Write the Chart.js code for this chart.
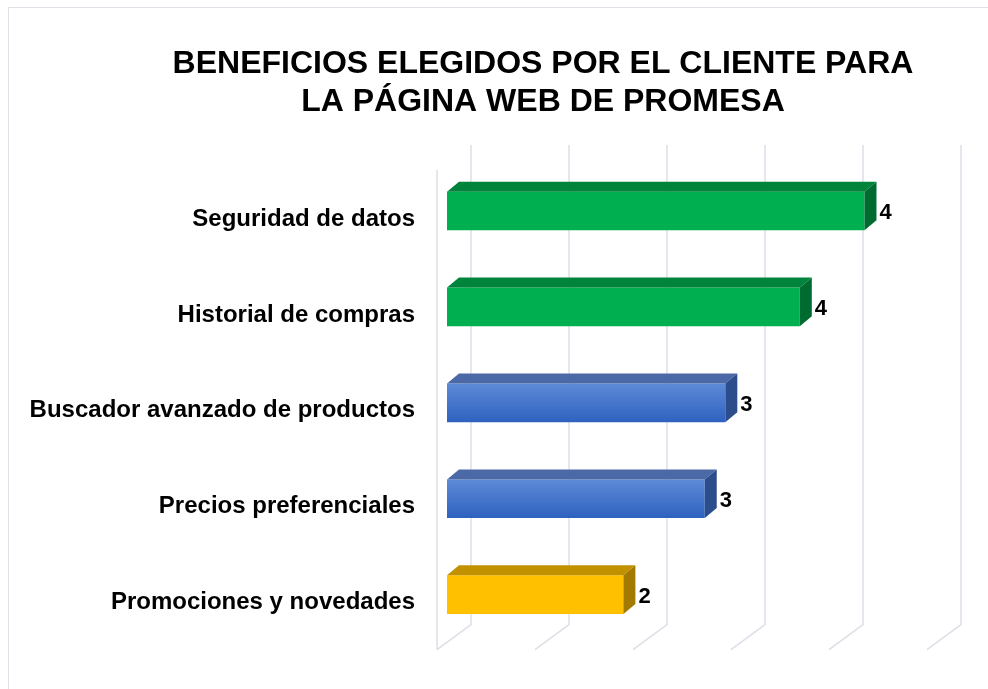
<!DOCTYPE html>
<html>
<head>
<meta charset="utf-8">
<script src="https://cdn.jsdelivr.net/npm/chart.js@4.4.1/dist/chart.umd.min.js"></script>
<style>
  html, body { margin: 0; padding: 0; background: #fff; overflow: hidden; }
  #wrap { position: relative; width: 988px; height: 689px; }
  #frame { position: absolute; left: 8px; top: 7px; width: 1000px; height: 700px;
           border: 1px solid #dfe2e8; box-sizing: border-box; pointer-events: none; }
  canvas { position: absolute; left: 0; top: 0; }
</style>
</head>
<body>
<div id="wrap">
  <canvas id="chart" width="988" height="689"></canvas>
  <div id="frame"></div>
</div>
<script>
var titleLines = ['BENEFICIOS ELEGIDOS POR EL CLIENTE PARA', 'LA PÁGINA WEB DE PROMESA'];
var beneficios = ['Seguridad de datos', 'Historial de compras', 'Buscador avanzado de productos', 'Precios preferenciales', 'Promociones y novedades'];
var puntajes = [4.26, 3.6, 2.84, 2.63, 1.8];
var escala = [0, 1, 2, 3, 4, 5];

var fontFam = '"Liberation Sans", Arial, sans-serif';

// front / top / side colours of each bar
var frontColors = ['#00b050', '#00b050', 'blue', 'blue', '#ffc000'];
var topColors = ['#00843b', '#00843b', '#4a69a6', '#4a69a6', '#c29100'];
var sideColors = ['#006b30', '#006b30', '#2c4d8c', '#2c4d8c', '#a37a00'];

var DX = 12, DY = 10;  // depth of the bars
var BX = 24, BY = 18;  // back wall offset
var FX = 10, FY = 7;   // front edge of the floor

function barFill(c) {
    var col = frontColors[c.dataIndex];
    if (col !== 'blue') return col;
    var chart = c.chart;
    if (!chart.chartArea) return '#4a78cc';
    var y = chart.scales.y.getPixelForValue(c.dataIndex);
    var g = chart.ctx.createLinearGradient(0, y - 19, 0, y + 19);
    g.addColorStop(0, '#5d89d7');
    g.addColorStop(1, '#2f62c0');
    return g;
}

var grid3d = {
    id: 'grid3d',
    beforeDatasetsDraw: function(chart) {
        var ctx = chart.ctx, xs = chart.scales.x, area = chart.chartArea;
        ctx.save();
        ctx.strokeStyle = '#dcdfe7';
        ctx.lineWidth = 1.5;
        escala.forEach(function(v) {
            var px = xs.getPixelForValue(v);
            ctx.beginPath();
            ctx.moveTo(px + BX, area.top - BY);
            ctx.lineTo(px + BX, area.bottom - BY);
            ctx.lineTo(px - FX, area.bottom + FY);
            ctx.stroke();
        });
        var x0 = xs.getPixelForValue(0);
        ctx.beginPath();
        ctx.moveTo(x0 - FX, area.top + FY);
        ctx.lineTo(x0 - FX, area.bottom + FY);
        ctx.stroke();
        ctx.restore();
    }
};

var bars3d = {
    id: 'bars3d',
    afterDatasetsDraw: function(chart) {
        var ctx = chart.ctx;
        var meta = chart.getDatasetMeta(0);
        ctx.save();
        meta.data.forEach(function(bar, i) {
            var p = bar.getProps(['x', 'y', 'base', 'height'], true);
            var top = p.y - p.height / 2, bot = p.y + p.height / 2;

            ctx.fillStyle = topColors[i];
            ctx.beginPath();
            ctx.moveTo(p.base, top);
            ctx.lineTo(p.base + DX, top - DY);
            ctx.lineTo(p.x + DX, top - DY);
            ctx.lineTo(p.x, top);
            ctx.closePath();
            ctx.fill();

            ctx.fillStyle = sideColors[i];
            ctx.beginPath();
            ctx.moveTo(p.x, top);
            ctx.lineTo(p.x + DX, top - DY);
            ctx.lineTo(p.x + DX, bot - DY);
            ctx.lineTo(p.x, bot);
            ctx.closePath();
            ctx.fill();

            ctx.fillStyle = '#000';
            ctx.font = 'bold 22px ' + fontFam;
            ctx.textAlign = 'left';
            ctx.textBaseline = 'middle';
            ctx.fillText(String(Math.round(puntajes[i])), p.x + DX + 3, p.y + 2);
        });
        ctx.restore();
    }
};

var titulo = {
    id: 'titulo',
    afterDraw: function(chart) {
        var ctx = chart.ctx;
        ctx.save();
        ctx.fillStyle = '#000';
        ctx.font = 'bold 32px ' + fontFam;
        ctx.textAlign = 'center';
        ctx.textBaseline = 'alphabetic';
        ctx.fillText(titleLines[0], 543, 73);
        ctx.fillText(titleLines[1], 543, 111);
        ctx.restore();
    }
};

var ctx = document.getElementById('chart').getContext('2d');

var chart = new Chart(ctx, {
    type: 'bar',
    data: {
        labels: beneficios,
        datasets: [{
            data: puntajes,
            backgroundColor: barFill,
            borderWidth: 0,
            categoryPercentage: 1,
            barPercentage: 0.403
        }]
    },
    options: {
        indexAxis: 'y',
        responsive: false,
        animation: false,
        layout: { padding: { left: 31, right: 51, top: 163, bottom: 42 } },
        plugins: {
            legend: { display: false },
            title: { display: false },
            tooltip: { enabled: false }
        },
        scales: {
            x: {
                display: false,
                min: 0,
                max: 5
            },
            y: {
                grid: { display: false, drawTicks: false },
                border: { display: false },
                ticks: {
                    color: '#000',
                    padding: 32,
                    labelOffset: 8,
                    font: { family: fontFam, size: 24, weight: 'bold' }
                },
                afterFit: function(scale) { scale.width = 416; }
            }
        }
    },
    plugins: [grid3d, bars3d, titulo]
});
</script>
</body>
</html>
